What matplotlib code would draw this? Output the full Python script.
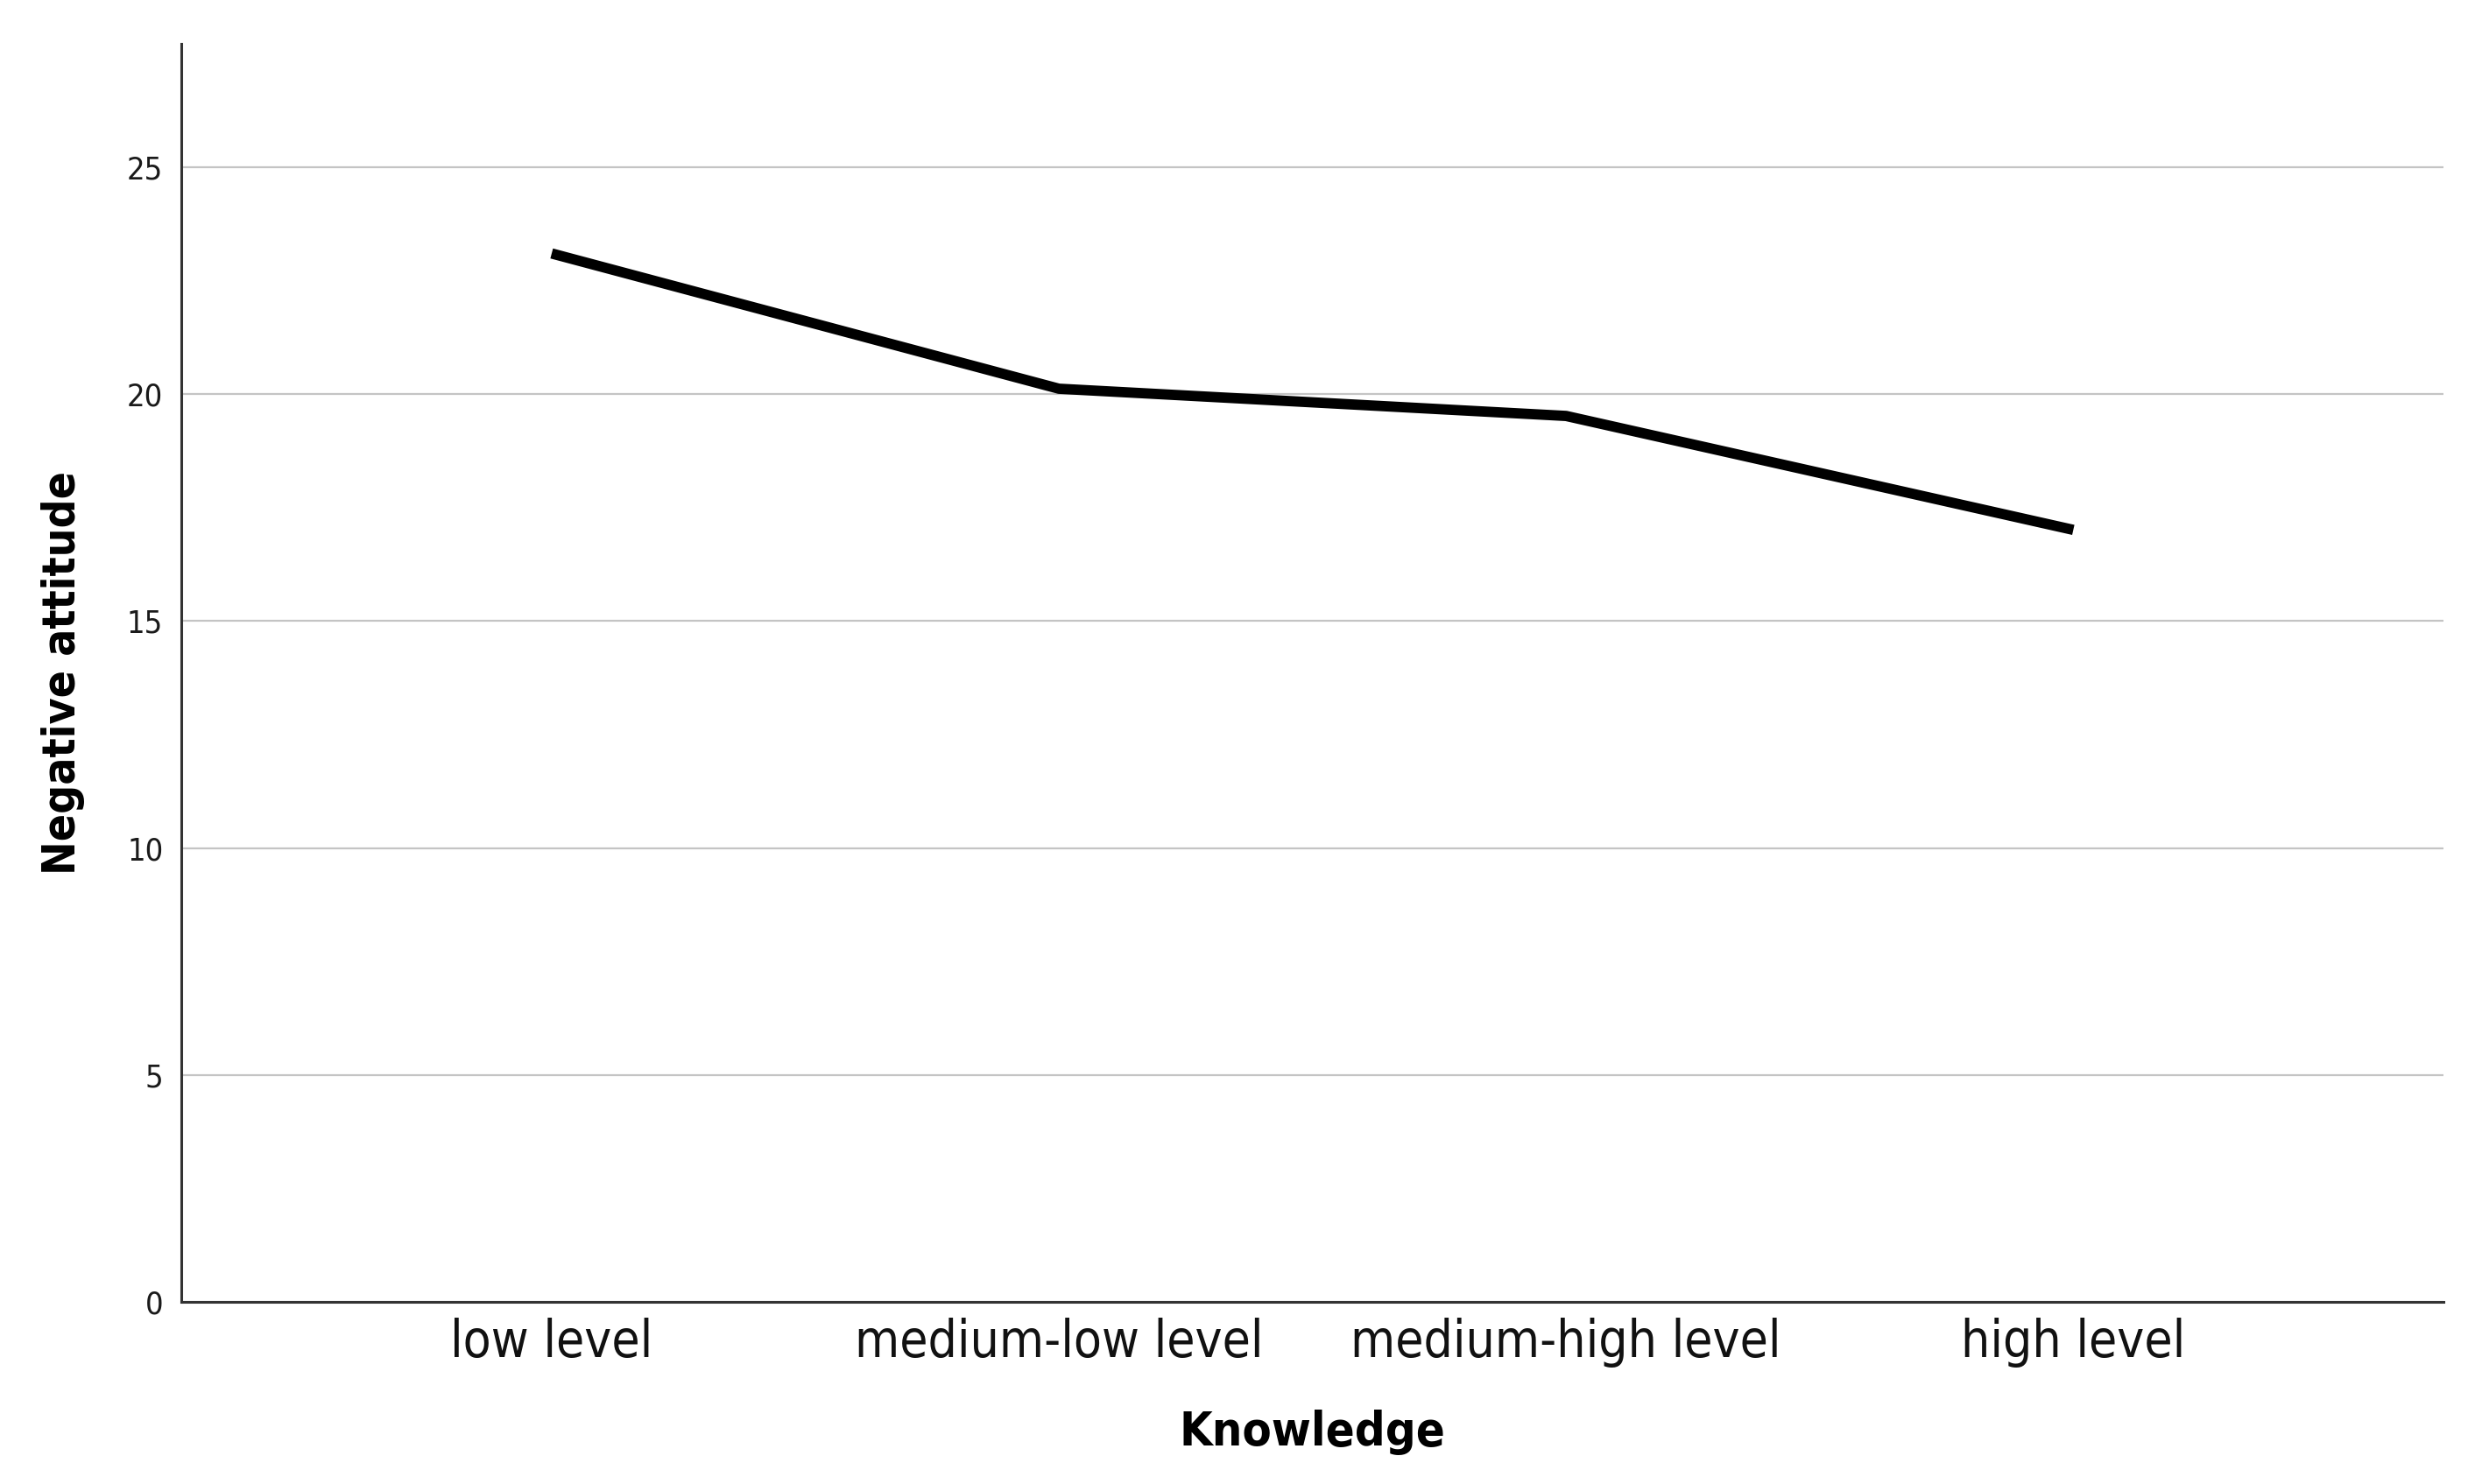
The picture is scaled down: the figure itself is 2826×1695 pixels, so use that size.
import matplotlib
matplotlib.use("Agg")
import matplotlib.pyplot as plt
from matplotlib import font_manager

# Data
categories = ["low level", "medium-low level", "medium-high level", "high level"]
negative_attitude = [23.1, 20.12, 19.52, 17.01]
y_ticks = [0, 5, 10, 15, 20, 25]

# a condensed face looks closer to the original, if one is installed
condensed = any(f.name == "DejaVu Sans" and f.stretch in ("condensed", 400, "semi-condensed")
                for f in font_manager.fontManager.ttflist)
stretch = "condensed" if condensed else "normal"
plt.rcParams["font.family"] = ["DejaVu Sans"]
plt.rcParams["font.stretch"] = stretch

fig = plt.figure(figsize=(28.26, 16.95), dpi=100)
ax = fig.add_axes([0.0733, 0.1227, 0.9140, 0.8478])

x = list(range(len(categories)))
ax.plot(x, negative_attitude, color="black", linewidth=8.5, solid_capstyle="butt",
        solid_joinstyle="round", zorder=3)

ax.set_xlim(-0.73, 3.73)
ax.set_ylim(0, 27.72)
ax.set_yticks(y_ticks)
ax.set_xticks(x)
ax.set_xticklabels(categories, fontsize=42 if condensed else 38)
ax.tick_params(axis="y", labelsize=26 if condensed else 24, length=0, pad=15,
               labelcolor="#1a1a1a")
ax.tick_params(axis="x", length=0, pad=13, labelcolor="#111111")

ax.grid(axis="y", color="#c4c4c4", linewidth=1.6, zorder=0)
ax.set_axisbelow(True)

for s in ["top", "right"]:
    ax.spines[s].set_visible(False)
for s in ["left", "bottom"]:
    ax.spines[s].set_color("#333333")
    ax.spines[s].set_linewidth(2.2)

lab_size = 37 if condensed else 34
ax.set_xlabel("Knowledge", fontsize=39 if condensed else 35, fontweight="bold")
ax.set_ylabel("Negative attitude", fontsize=lab_size, fontweight="bold")
ax.xaxis.set_label_coords(0.5, -0.1037)
ax.xaxis.label.set_va("center")
ax.yaxis.set_label_coords(-0.0523, 0.5)
ax.yaxis.label.set_va("center")

fig.savefig("out.png", dpi=100, facecolor="white")
